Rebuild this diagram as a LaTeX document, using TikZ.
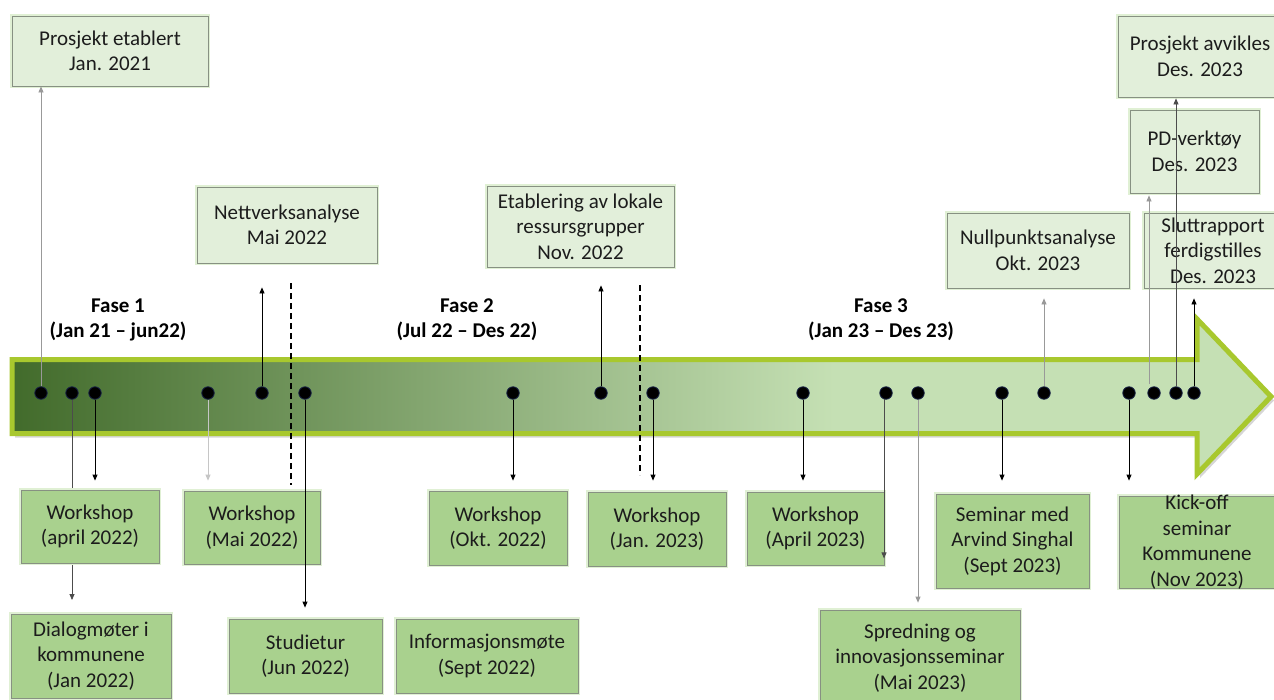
\documentclass[tikz,border=0pt]{standalone}
\usepackage{fontspec}
\setmainfont{Carlito}
\usetikzlibrary{arrows.meta,calc}
\definecolor{topfill}{RGB}{226,239,218}
\definecolor{botfill}{RGB}{169,209,142}
\definecolor{boxline}{RGB}{135,145,130}
\definecolor{glow}{RGB}{224,240,212}
\definecolor{darkg}{RGB}{66,107,43}
\definecolor{lightg}{RGB}{197,224,180}
\definecolor{rim}{RGB}{168,200,46}
\definecolor{txt}{RGB}{28,28,28}
\definecolor{dotline}{RGB}{25,35,70}
\begin{document}
\begin{tikzpicture}[x=1pt,y=-1pt,
  box/.style={draw=boxline, line width=0.8pt, inner sep=0pt, align=center, text=txt,
    font=\fontsize{21}{25.5}\selectfont, preaction={draw=glow, line width=4pt}},
  topbox/.style={box, fill=topfill},
  botbox/.style={box, fill=botfill},
  boxtext/.style={inner sep=0pt, align=center, text=txt, font=\fontsize{21}{25.5}\selectfont},
  fase/.style={inner sep=0pt, align=center, text=black, font=\fontsize{21}{25}\selectfont\bfseries},
  conn/.style={draw=black, line width=0.8pt, -{Triangle[length=6pt,width=5pt]}},
  gconn/.style={conn, draw=gray!80},
  lconn/.style={conn, draw=gray!45},
  dconn/.style={conn, draw=black!70},
  dot/.style={circle, fill=black, draw=dotline, line width=0.8pt, minimum size=12.5pt, inner sep=0pt},
  phase/.style={draw=black, line width=1.6pt, dash pattern=on 6pt off 4pt}
]
\useasboundingbox (0,0) rectangle (1274,699);
\fill[white] (0,0) rectangle (1274,699);

% big arrow: shadow, fill, gradient, rim
\begin{scope}[shift={(3,4)}]
  \fill[black, opacity=0.16] (12,359.5) -- (1197,359.5) -- (1197,319) -- (1271,396.5) -- (1197,474) -- (1197,433.5) -- (12,433.5) -- cycle;
\end{scope}
\fill[lightg] (12,359.5) -- (1197,359.5) -- (1197,319) -- (1271,396.5) -- (1197,474) -- (1197,433.5) -- (12,433.5) -- cycle;
\shade[left color=darkg, right color=lightg] (12,359.5) rectangle (834,433.5);
\draw[rim, line width=5pt, line join=miter] (12,359.5) -- (1197,359.5) -- (1197,319) -- (1271,396.5) -- (1197,474) -- (1197,433.5) -- (12,433.5) -- cycle;

% phase separators
\coordinate (s1a) at (291,283); \coordinate (s1b) at (291,485);
\coordinate (s2a) at (640,285); \coordinate (s2b) at (640,475);
\draw[phase] (s1a) -- (s1b);
\draw[phase] (s2a) -- (s2b);

% phase labels
\node[fase] (f1) at (118,320) {Fase 1\\(Jan 21 – jun22)};
\node[fase] (f2) at (467,320) {Fase 2\\(Jul 22 – Des 22)};
\node[fase] (f3) at (881,320) {Fase 3\\(Jan 23 – Des 23)};

% dots
\node[dot] (d1) at (41,393) {};
\node[dot] (d2) at (72,393) {};
\node[dot] (d3) at (95,393) {};
\node[dot] (d4) at (208,393) {};
\node[dot] (d5) at (262,393) {};
\node[dot] (d6) at (305,393) {};
\node[dot] (d7) at (513,393) {};
\node[dot] (d8) at (601,393) {};
\node[dot] (d9) at (653,393) {};
\node[dot] (d10) at (803,393) {};
\node[dot] (d11) at (886,393) {};
\node[dot] (d12) at (918,393) {};
\node[dot] (d13) at (1002,393) {};
\node[dot] (d14) at (1044,393) {};
\node[dot] (d15) at (1129,393) {};
\node[dot] (d16) at (1154,393) {};
\node[dot] (d17) at (1176,393) {};
\node[dot] (d18) at (1194,393) {};

% line behind the april workshop box
\coordinate (dialtop) at (72,614);
\draw[dconn, shorten >=14pt] (d2) -- (dialtop);

% top boxes
\node[topbox, minimum width=196pt, minimum height=70pt] (etab) at (110,51) {Prosjekt etablert\\Jan. 2021};
\node[topbox, minimum width=180pt, minimum height=76pt] (nett) at (287,225) {Nettverksanalyse\\Mai 2022};
\node[topbox, minimum width=187pt, minimum height=81pt] (lok) at (580.5,226.5) {Etablering av lokale\\ressursgrupper\\Nov. 2022};
\node[topbox, minimum width=182pt, minimum height=75pt] (null) at (1038,250.5) {Nullpunktsanalyse\\Okt. 2023};
\node[topbox, minimum width=138pt, minimum height=75pt] (slutt) at (1213,250.5) {Sluttrapport\\ferdigstilles\\Des. 2023};
\node[topbox, minimum width=129pt, minimum height=83pt] (pd) at (1194.5,151.5) {PD-verktøy\\Des. 2023};
\node[topbox, minimum width=164pt, minimum height=81pt] (avv) at (1200,56.5) {Prosjekt avvikles\\Des. 2023};

% bottom boxes
\node[botbox, minimum width=138pt, minimum height=73pt] (wsA) at (90,526.5) {Workshop\\(april 2022)};
\node[botbox, minimum width=160pt, minimum height=84pt] (dial) at (91,656) {Dialogmøter i\\kommunene\\(Jan 2022)};
\node[botbox, minimum width=136pt, minimum height=73pt] (wsM) at (252,527.5) {Workshop\\(Mai 2022)};
\node[botbox, minimum width=153pt, minimum height=74pt] (stud) at (305.5,656) {Studietur\\(Jun 2022)};
\node[botbox, minimum width=182pt, minimum height=74pt] (info) at (487,656) {Informasjonsmøte\\(Sept 2022)};
\node[botbox, minimum width=138pt, minimum height=74pt] (wsO) at (498,528) {Workshop\\(Okt. 2022)};
\node[botbox, minimum width=138pt, minimum height=74pt] (wsJ) at (657,529) {Workshop\\(Jan. 2023)};
\node[botbox, minimum width=137pt, minimum height=73pt] (wsP) at (815.5,528.5) {Workshop\\(April 2023)};
\node[botbox, minimum width=200pt, minimum height=96pt] (spr) at (920,658) {Spredning og\\innovasjonsseminar\\(Mai 2023)};
\node[botbox, minimum width=153pt, minimum height=94pt] (sem) at (1012.5,541) {Seminar med\\Arvind Singhal\\(Sept 2023)};
\node[botbox, minimum width=156pt, minimum height=92pt] (kick) at (1197,542) {};
\node[boxtext] (kicktxt) at (kick.center) {Kick-off\\seminar\\Kommunene\\(Nov 2023)};

% upward connectors
\draw[gconn] (d1) -- (d1 |- etab.south);
\draw[conn, shorten >=24pt] (d5) -- (d5 |- nett.south);
\draw[conn, shorten >=18pt] (d8) -- (d8 |- lok.south);
\draw[gconn, shorten >=10pt] (d14) -- (d14 |- null.south);
\coordinate (x16) at (1149,384);
\draw[gconn, shorten >=2pt] (x16) -- (x16 |- pd.south);
\draw[dconn, shorten >=1pt] (d17) -- (d17 |- avv.south);
\draw[conn, shorten >=10pt] (d18) -- (d18 |- slutt.south);

% downward connectors
\draw[conn, shorten >=9pt] (d3) -- (d3 |- wsA.north);
\draw[lconn, shorten >=10pt] (d4) -- (d4 |- wsM.north);
\draw[conn, shorten >=11pt] (d6) -- (d6 |- stud.north);
\draw[conn, shorten >=10pt] (d7) -- (d7 |- wsO.north);
\draw[conn, shorten >=11pt] (d9) -- (d9 |- wsJ.north);
\draw[conn, shorten >=11pt] (d10) -- (d10 |- wsP.north);
\coordinate (x11) at (884,399);
\draw[dconn, shorten >=7pt] (x11) -- (x11 |- wsP.south);
\draw[gconn, shorten >=7pt] (d12) -- (d12 |- spr.north);
\draw[conn, shorten >=13pt] (d13) -- (d13 |- sem.north);
\draw[conn, shorten >=15pt] (d15) -- (d15 |- kick.north);
\end{tikzpicture}
\end{document}
